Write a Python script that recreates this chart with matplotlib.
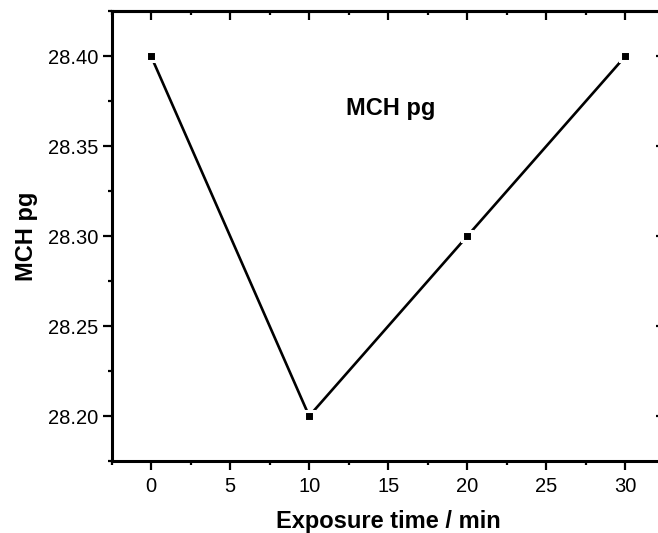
import matplotlib
matplotlib.use("Agg")
import matplotlib.pyplot as plt
from matplotlib.ticker import MultipleLocator

# data
exposure_min = [0, 10, 20, 30]
mch_pg = [28.40, 28.20, 28.30, 28.40]

plt.rcParams['font.family'] = ['Liberation Sans', 'DejaVu Sans']

fig = plt.figure(figsize=(6.58, 5.33), dpi=100)
# the right spine sits just outside the picture, as in the reference
ax = fig.add_axes([0.1695, 0.135, 0.841, 0.844])

# white marker edge gives the small gap between line and points
ax.plot(exposure_min, mch_pg, color='black', linewidth=1.9,
        marker='s', markersize=6.5, markerfacecolor='black',
        markeredgecolor='white', markeredgewidth=2.2)

ax.set_xlim(-2.5, 32.5)
ax.set_ylim(28.175, 28.425)

ax.xaxis.set_major_locator(MultipleLocator(5))
ax.xaxis.set_minor_locator(MultipleLocator(2.5))
ax.yaxis.set_major_locator(MultipleLocator(0.05))
ax.yaxis.set_minor_locator(MultipleLocator(0.025))
ax.yaxis.set_major_formatter(plt.FormatStrFormatter('%.2f'))

for s in ax.spines.values():
    s.set_linewidth(2.2)

ax.tick_params(axis='both', which='major', length=6.5, width=1.6,
               labelsize=14.5, colors='black')
ax.tick_params(axis='both', which='minor', length=3.2, width=1.6)
ax.tick_params(axis='x', which='both', direction='out', bottom=True)
ax.tick_params(axis='y', which='both', direction='out', left=True)
ax.tick_params(axis='x', which='major', pad=5)
ax.tick_params(axis='y', which='major', pad=3)

# inward ticks on top and right
top = ax.secondary_xaxis('top')
top.xaxis.set_major_locator(MultipleLocator(5))
top.xaxis.set_minor_locator(MultipleLocator(2.5))
top.tick_params(which='major', direction='in', length=6.5, width=1.6, labeltop=False)
top.tick_params(which='minor', direction='in', length=3.2, width=1.6)
top.spines['top'].set_linewidth(2.2)
right = ax.secondary_yaxis('right')
right.yaxis.set_major_locator(MultipleLocator(0.05))
right.yaxis.set_minor_locator(MultipleLocator(0.025))
right.tick_params(which='major', direction='in', length=6.5, width=1.6, labelright=False)
right.tick_params(which='minor', direction='in', length=3.2, width=1.6)
right.spines['right'].set_linewidth(2.2)

ax.set_xlabel('Exposure time / min', fontsize=17, fontweight='bold', labelpad=10)
ax.set_ylabel('MCH pg', fontsize=17, fontweight='bold', labelpad=7)

ax.text(0.505, 0.769, 'MCH pg', transform=ax.transAxes, ha='center',
        va='baseline', fontsize=17, fontweight='bold')

fig.savefig('out.png', dpi=100)
